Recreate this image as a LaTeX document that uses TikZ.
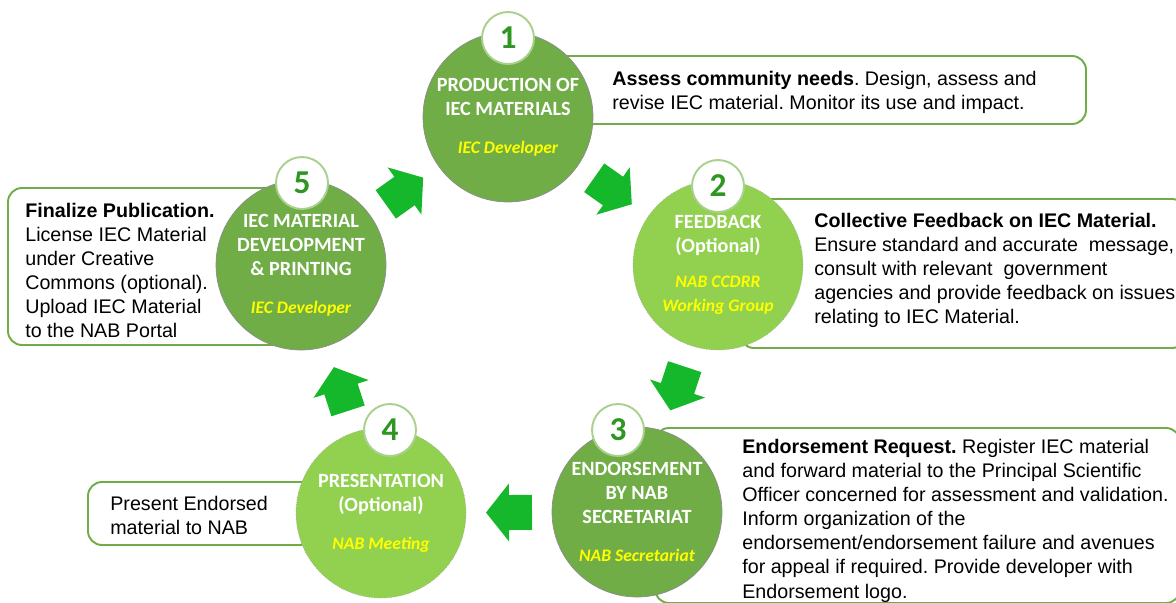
\documentclass[tikz,border=0pt]{standalone}
\usepackage{fontspec}
\setmainfont{Liberation Sans}
\newfontfamily\carlito{Carlito}
\definecolor{dgreen}{HTML}{70AD47}
\definecolor{lgreen}{HTML}{92D050}
\definecolor{agreen}{HTML}{14B82A}
\definecolor{ngreen}{HTML}{2F9622}
\definecolor{rimgreen}{HTML}{A9D18E}
\definecolor{roleyellow}{HTML}{FFFF00}
\tikzset{stage/.style = {circle, minimum size=3.4cm, inner sep=0, text=white, align=center,
                         font={\carlito\bfseries\fontsize{11.5}{13.7}\selectfont}}}
\tikzset{darkstage/.style = {stage, fill=dgreen, draw=black!45, line width=0.4pt}}
\tikzset{lightstage/.style = {stage, fill=lgreen, draw=black!35, densely dotted, line width=0.4pt}}
\tikzset{num/.style = {circle, fill=white, draw=rimgreen, line width=1.1pt, minimum size=1.04cm,
                       inner sep=0, text=ngreen, font={\carlito\bfseries\fontsize{19}{20}\selectfont}}}
\tikzset{descbox/.style = {draw=dgreen, line width=1.1pt, fill=white, rounded corners=0.28cm}}
\tikzset{desc/.style = {anchor=north west, align=left, inner sep=0,
                        font={\fontsize{11.2}{13.7}\selectfont\frenchspacing}}}
\tikzset{flowarrow/.pic = {\fill[agreen] (-23,-17.5) -- (0,-17.5) -- (0,-29) -- (23,0)
                                        -- (0,29) -- (0,17.5) -- (-23,17.5) -- cycle;}}
\tikzset{flow/.style = {sloped, allow upside down}}
\newcommand{\rolename}[1]{{\color{roleyellow}\itshape\fontsize{10}{12}\selectfont #1}}

\begin{document}
\begin{tikzpicture}[x=0.02cm, y=-0.02cm]
  \useasboundingbox (0,0) rectangle (1176,602);

  \draw[descbox] (540,56) rectangle (1086,124);
  \draw[descbox] (740,199) rectangle (1186,348);
  \draw[descbox] (655,428) rectangle (1180,603);
  \draw[descbox] (88,482) rectangle (320,545);
  \draw[descbox] (8,188) rectangle (290,345);

  \node[desc] (t1) at (612,71) {\textbf{Assess community needs}. Design, assess and\\
    revise IEC material. Monitor its use and impact.};
  \node[desc] (t2) at (814,213) {\textbf{Collective Feedback on IEC Material.}\\
    Ensure standard and accurate~ message,\\
    consult with relevant~ government\\
    agencies and provide feedback on issues\\
    relating to IEC Material.};
  \node[desc] (t3) at (742,439) {\textbf{Endorsement Request.} Register IEC material\\
    and forward material to the Principal Scientific\\
    Officer concerned for assessment and validation.\\
    Inform organization of the\\
    endorsement/endorsement failure and avenues\\
    for appeal if required. Provide developer with\\
    Endorsement logo.};
  \node[desc] (t4) at (110,496) {Present Endorsed\\material to NAB};
  \node[desc] (t5) at (25,203) {\textbf{Finalize Publication.}\\
    License IEC Material\\
    under Creative\\
    Commons (optional).\\
    Upload IEC Material\\
    to the NAB Portal};

  \node[darkstage] (s1) at (508,117) {PRODUCTION OF\\IEC MATERIALS\\[8pt]\rolename{IEC Developer}};
  \node[lightstage] (s2) at (718,265) {FEEDBACK\\(Optional)\\[6pt]\rolename{NAB CCDRR}\\\rolename{Working Group}};
  \node[darkstage] (s3) at (637,512) {ENDORSEMENT\\BY NAB\\SECRETARIAT\\[8pt]\rolename{NAB Secretariat}};
  \node[lightstage] (s4) at (381,513) {PRESENTATION\\(Optional)\\[8pt]\rolename{NAB Meeting}};
  \node[darkstage] (s5) at (301,265) {IEC MATERIAL\\DEVELOPMENT\\\& PRINTING\\[8pt]\rolename{IEC Developer}};

  \node[num] (n1) at (508,38) {1};
  \node[num] (n2) at (718,186) {2};
  \node[num] (n3) at (618,430) {3};
  \node[num] (n4) at (390,430) {4};
  \node[num] (n5) at (302,183) {5};

  \path (s1) -- pic[flow] (a12) {flowarrow} (s2);
  \path (s2) -- pic[flow] (a23) {flowarrow} (s3);
  \path (s3) -- pic[flow] (a34) {flowarrow} (s4);
  \path (s4) -- pic[flow] (a45) {flowarrow} (s5);
  \path (s5) -- pic[flow] (a51) {flowarrow} (s1);
\end{tikzpicture}
\end{document}
